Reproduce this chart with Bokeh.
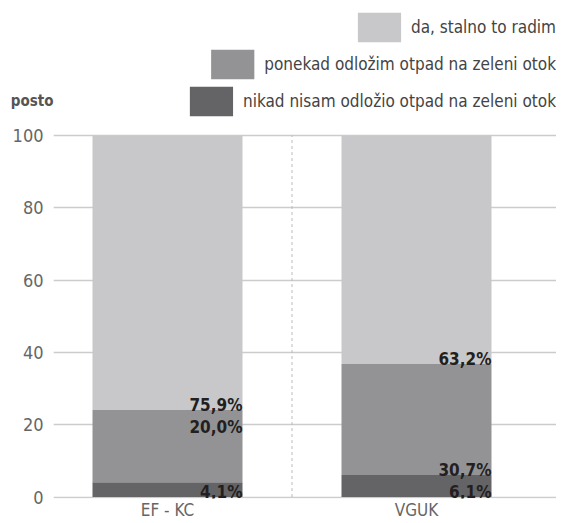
from bokeh.plotting import figure
from bokeh.layouts import column
from bokeh.models import Range1d, Legend, LegendItem, ColumnDataSource
from bokeh.core.properties import value
from bokeh.embed import file_html
from bokeh.resources import INLINE

# ---- data ----
categories = ["EF - KC", "VGUK"]
series_names = [
    "nikad nisam odložio otpad na zeleni otok",
    "ponekad odložim otpad na zeleni otok",
    "da, stalno to radim",
]
nikad = [4.1, 6.1]
ponekad = [20.0, 30.7]
da = [75.9, 63.2]
y_ticks = [0, 20, 40, 60, 80, 100]
y_title = "posto"

# ---- style ----
colors = ["#646466", "#939396", "#c8c8ca"]
FONT = "Liberation Sans Narrow, DejaVu Sans Condensed, Roboto Condensed, Roboto, sans-serif"
W = 556
LEFT = 53
ROW = 37
TOP_PAD = 8
MAIN_H = 403
AXIS_PX = 23.5          # expected height of the category axis panel
FRAME_H = MAIN_H - AXIS_PX
TOP_GAP_PX = 16         # space between frame top and the 100 line
K = (FRAME_H - TOP_GAP_PX) / 100.4
STEP_PX, FIRST_PX, BAR_PX = 249.0, 167.0, 150.0

x_start = -(FIRST_PX - LEFT) / STEP_PX
x_end = (W - FIRST_PX) / STEP_PX
y_start = -0.4
y_end = y_ticks[-1] + TOP_GAP_PX / K
bar_w = BAR_PX / STEP_PX

p = figure(width=W, height=MAIN_H, output_backend="svg", toolbar_location=None,
           title_location=None,
           x_range=Range1d(x_start, x_end), y_range=Range1d(y_start, y_end),
           min_border_left=LEFT, min_border_right=0, min_border_top=0, min_border_bottom=0)
p.outline_line_color = None
p.xgrid.grid_line_color = None
p.ygrid.grid_line_color = "#cccccc"
p.ygrid.grid_line_width = 1.5

xs = list(range(len(categories)))

p.yaxis.ticker = y_ticks
p.xaxis.ticker = xs
p.xaxis.major_label_overrides = {i: c for i, c in zip(xs, categories)}
for ax in (p.xaxis, p.yaxis):
    ax.axis_line_color = None
    ax.major_tick_line_color = None
    ax.minor_tick_line_color = None
    ax.major_tick_out = 0
    ax.minor_tick_out = 0
    ax.major_label_text_font = FONT
    ax.major_label_text_color = "#666666"
p.yaxis.major_label_standoff = 10
p.yaxis.major_label_text_font_size = "18px"
p.xaxis.major_label_standoff = 1
p.xaxis.major_label_text_font_size = "17px"

series = [nikad, ponekad, da]
src = ColumnDataSource(dict(x=xs, **{f"s{j}": s for j, s in enumerate(series)}))
p.vbar_stack([f"s{j}" for j in range(len(series))], x="x", width=bar_w,
             source=src, color=colors, line_color=None)

# separator between categories
p.segment(x0=[i + 0.5 for i in xs[:-1]], x1=[i + 0.5 for i in xs[:-1]],
          y0=[y_ticks[0]] * (len(xs) - 1), y1=[y_ticks[-1]] * (len(xs) - 1),
          line_color="#bbbbbb", line_width=1, line_dash="3 3")

# value labels
MIN_GAP = 5.5
lx, ly, lt, loff = [], [], [], []
for i in xs:
    bottom = 0.0
    prev_bottom = None
    for j, s in enumerate(series):
        v = s[i]
        top = bottom + v
        lx.append(i + bar_w / 2)
        lt.append(f"{v:.1f}%".replace(".", ","))
        if prev_bottom is not None and bottom - prev_bottom < MIN_GAP:
            ly.append(top)
            loff.append(17)
        else:
            ly.append(bottom)
            loff.append(-5)
        prev_bottom = bottom
        bottom = top
p.text(x="x", y="y", text="t", y_offset="o",
       source=ColumnDataSource(dict(x=lx, y=ly, t=lt, o=loff)),
       text_align="right", text_baseline="alphabetic",
       text_font=value(FONT), text_font_style="bold", text_font_size="17px",
       text_color="#231f20")

# legend rows (right aligned), top row = last series
rows = []
for k, idx in enumerate(reversed(range(len(series)))):
    pad = TOP_PAD if k == 0 else 0
    has_title = idx == 0
    lf = figure(width=W, height=ROW + pad, output_backend="svg", toolbar_location=None,
                title_location=None, x_axis_location=None,
                y_axis_location="left" if has_title else None,
                x_range=Range1d(0, 1), y_range=Range1d(0, 1),
                min_border_left=LEFT, min_border_right=0, min_border_bottom=0,
                min_border_top=pad)
    lf.outline_line_color = None
    lf.background_fill_color = None
    lf.border_fill_color = None
    lf.grid.visible = False
    # off-range dummy glyph (outside both ranges) used only for the legend swatch
    r = lf.vbar(x=[-1000], bottom=[-1000], top=[-999], width=1,
                color=colors[idx], line_color=None)
    leg = Legend(items=[LegendItem(label=series_names[idx], renderers=[r])],
                 location="right", orientation="vertical",
                 glyph_width=54, glyph_height=ROW, label_standoff=5,
                 padding=0, margin=0, spacing=0,
                 border_line_color=None, background_fill_alpha=0,
                 label_text_font=FONT, label_text_font_size="17px",
                 label_text_color="#444444")
    lf.add_layout(leg, "center")
    if has_title:
        ya = lf.yaxis[0]
        ya.ticker = [0.5]
        ya.major_label_overrides = {0.5: y_title}
        ya.axis_line_color = None
        ya.major_tick_line_color = None
        ya.minor_tick_line_color = None
        ya.major_tick_out = 0
        ya.minor_tick_out = 0
        ya.major_label_standoff = 0
        ya.major_label_text_font = FONT
        ya.major_label_text_font_style = "bold"
        ya.major_label_text_font_size = "15px"
        ya.major_label_text_color = "#555555"
    rows.append(lf)

layout = column(*rows, p, spacing=0)
open("out.html", "w").write(file_html(layout, INLINE))
